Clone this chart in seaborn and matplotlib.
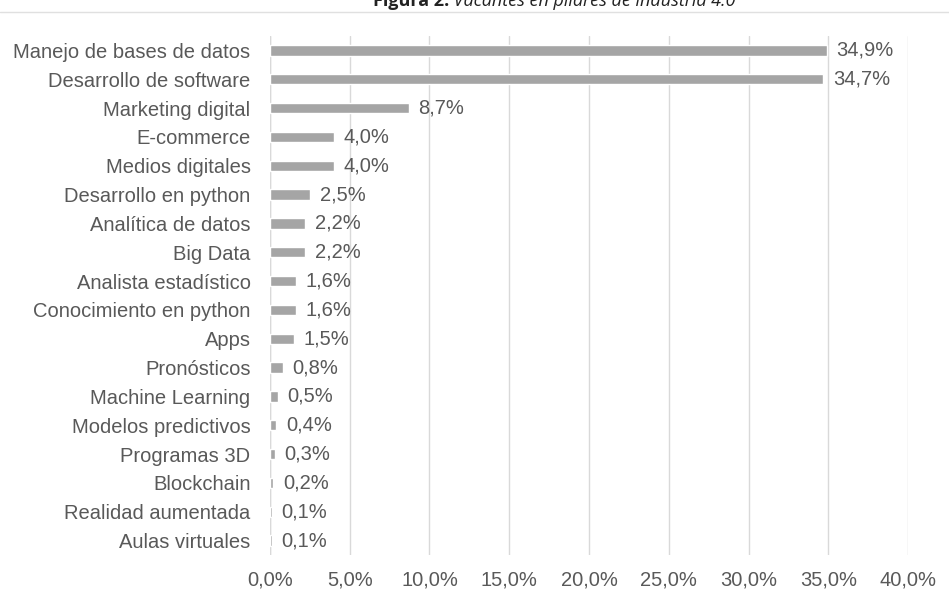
import matplotlib
matplotlib.use("Agg")
import matplotlib.pyplot as plt
import seaborn as sns
import pandas as pd

categories = [
    "Manejo de bases de datos", "Desarrollo de software", "Marketing digital",
    "E-commerce", "Medios digitales", "Desarrollo en python", "Analítica de datos",
    "Big Data", "Analista estadístico", "Conocimiento en python", "Apps",
    "Pronósticos", "Machine Learning", "Modelos predictivos", "Programas 3D",
    "Blockchain", "Realidad aumentada", "Aulas virtuales",
]
values = [34.9, 34.7, 8.7, 4.0, 4.0, 2.5, 2.2, 2.2, 1.6, 1.6, 1.5,
          0.8, 0.5, 0.4, 0.3, 0.2, 0.1, 0.1]
x_ticks = [0, 5, 10, 15, 20, 25, 30, 35, 40]

df = pd.DataFrame({"categoria": categories, "valor": values})

sns.set_theme(style="white")
plt.rcParams["font.family"] = ["Liberation Sans", "DejaVu Sans"]

text_color = "#595959"
bar_color = "#A5A5A5"
grid_color = "#D9D9D9"

fig = plt.figure(figsize=(9.49, 5.99), dpi=100)
ax = fig.add_axes([0.2845, 0.0735, 0.6723, 0.8665])

sns.barplot(data=df, x="valor", y="categoria", orient="h", color=bar_color,
            saturation=1, width=0.36, ax=ax)

ax.set_xlim(0, 40)
ax.set_ylim(len(categories) - 0.5, -0.5)
ax.set_xticks(x_ticks)
ax.set_xticklabels([f"{t:.1f}%".replace(".", ",") for t in x_ticks])
ax.xaxis.grid(True, color=grid_color, linewidth=1)
ax.set_axisbelow(True)
for s in ax.spines.values():
    s.set_visible(False)
ax.axvline(0, color=grid_color, linewidth=1, zorder=0)
ax.set_xlabel("")
ax.set_ylabel("")
ax.tick_params(axis="both", length=0, labelsize=14.5, colors=text_color)
ax.tick_params(axis="x", pad=11)
ax.tick_params(axis="y", pad=14)

for i, v in enumerate(values):
    ax.annotate(f"{v:.1f}%".replace(".", ","), xy=(v, i), xytext=(7, 0),
                textcoords="offset points", va="center", ha="left",
                fontsize=14.5, color=text_color)

# Title band at the top of the page
fig.add_artist(plt.Line2D([0, 1], [1 - 12 / 599, 1 - 12 / 599],
                          color="#E0E0E0", linewidth=1))
title_y = 1 - 1 / 599
t1 = fig.text(0.5, title_y, "Figura 2.", family=["Open Sans", "DejaVu Sans"],
              fontsize=13, fontweight="bold", color="#222222", ha="right", va="center")
t2 = fig.text(0.5, title_y, " Vacantes en pilares de industria 4.0",
              family=["Open Sans", "DejaVu Sans"], fontsize=13, style="italic",
              color="#222222", ha="left", va="center")

fig.canvas.draw()
r = fig.canvas.get_renderer()
w1 = t1.get_window_extent(r).width
w2 = t2.get_window_extent(r).width
total = w1 + w2
center_px = 554
t1.set_x((center_px - total / 2 + w1) / 949)
t2.set_x((center_px - total / 2 + w1) / 949)

fig.savefig("out.png", dpi=100)
